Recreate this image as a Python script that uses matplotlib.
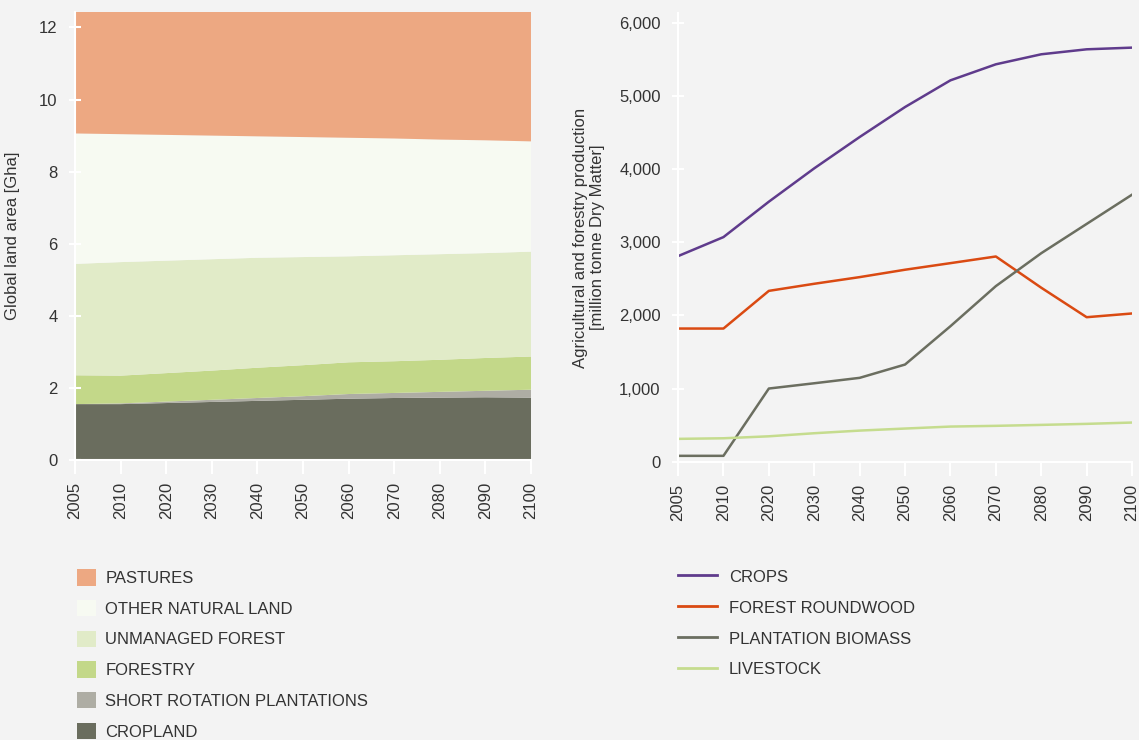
import matplotlib
matplotlib.use("Agg")
import matplotlib.pyplot as plt
from matplotlib.patches import Patch
from matplotlib.lines import Line2D

plt.rcParams['font.family'] = ['Liberation Sans', 'DejaVu Sans']

# dados
anos = ["2005", "2010", "2020", "2030", "2040", "2050", "2060", "2070", "2080", "2090", "2100"]

# area de terra [Gha], de baixo para cima
cropland = [1.55, 1.55, 1.58, 1.61, 1.64, 1.67, 1.70, 1.72, 1.73, 1.74, 1.73]
short_rotation = [0.00, 0.02, 0.04, 0.06, 0.08, 0.10, 0.13, 0.14, 0.16, 0.18, 0.22]
forestry = [0.80, 0.77, 0.79, 0.81, 0.84, 0.86, 0.88, 0.88, 0.89, 0.91, 0.92]
unmanaged_forest = [3.09, 3.15, 3.12, 3.09, 3.05, 3.00, 2.94, 2.94, 2.93, 2.91, 2.91]
other_natural = [3.62, 3.55, 3.49, 3.43, 3.37, 3.33, 3.29, 3.24, 3.18, 3.13, 3.06]
pastures = [3.37, 3.39, 3.41, 3.43, 3.45, 3.47, 3.49, 3.51, 3.54, 3.56, 3.59]

# producao [milhoes de toneladas de materia seca]
crops = [2810, 3070, 3554, 4010, 4438, 4848, 5213, 5432, 5569, 5637, 5660]
roundwood = [1820, 1820, 2335, 2432, 2523, 2624, 2714, 2805, 2378, 1975, 2026]
plantation = [80, 80, 1000, 1072, 1146, 1328, 1852, 2400, 2850, 3250, 3650]
livestock = [312, 320, 347, 389, 425, 453, 480, 490, 503, 517, 535]

cores_area = ["#6A6D5E", "#AEADA4", "#C3D889", "#E1EBC8", "#F7FAF2", "#EDA882"]
nomes_area = ["CROPLAND", "SHORT ROTATION PLANTATIONS", "FORESTRY",
              "UNMANAGED FOREST", "OTHER NATURAL LAND", "PASTURES"]

fundo = "#F3F3F3"
texto = "#333333"

fig = plt.figure(figsize=(11.39, 7.40), dpi=100, facecolor=fundo)
ax1 = fig.add_axes([0.0658, 0.3784, 0.4004, 0.6054], facecolor=fundo)
ax2 = fig.add_axes([0.5953, 0.3761, 0.3986, 0.606], facecolor=fundo)

x = list(range(len(anos)))

# =======================
# GRAFICO DE AREA
# =======================
ax1.stackplot(x, cropland, short_rotation, forestry, unmanaged_forest,
              other_natural, pastures, colors=cores_area, linewidth=0)
ax1.set_xlim(0, len(anos) - 1)
ax1.set_ylim(0, 12.43)
ax1.set_yticks([0, 2, 4, 6, 8, 10, 12])
ax1.set_ylabel("Global land area [Gha]", fontsize=12, color=texto, labelpad=14)

# =======================
# GRAFICO DE LINHAS
# =======================
ax2.plot(x, crops, color="#5F3B8C", lw=1.8)
ax2.plot(x, roundwood, color="#DA4A12", lw=1.8)
ax2.plot(x, plantation, color="#6B6E60", lw=1.8)
ax2.plot(x, livestock, color="#C5DC8E", lw=1.8)
ax2.set_xlim(0, len(anos) - 1)
ax2.set_ylim(0, 6130)
ax2.set_yticks([0, 1000, 2000, 3000, 4000, 5000, 6000])
ax2.set_yticklabels(["0", "1,000", "2,000", "3,000", "4,000", "5,000", "6,000"])
ax2.set_ylabel("Agricultural and forestry production\n[million tonne Dry Matter]",
               fontsize=12, color=texto, labelpad=10, linespacing=1.15)

for ax in (ax1, ax2):
    ax.set_xticks(x)
    ax.set_xticklabels(anos, rotation=90)
    for s in ("top", "right"):
        ax.spines[s].set_visible(False)
    for s in ("left", "bottom"):
        ax.spines[s].set_color("white")
        ax.spines[s].set_linewidth(1.5)
    ax.tick_params(axis="y", direction="inout", length=9, width=1.5, color="white",
                   labelsize=12, labelcolor=texto, pad=8)
    ax.tick_params(axis="x", direction="out", length=10, width=1.5, color="white",
                   labelsize=12, labelcolor=texto, pad=6)

# legendas
h1 = [Patch(facecolor=c, edgecolor="none") for c in cores_area[::-1]]
fig.legend(h1, nomes_area[::-1], loc="upper left", bbox_to_anchor=(0.0676, 0.2308),
           frameon=False, fontsize=12, labelspacing=0.83, handlelength=1.14,
           handleheight=1.14, handletextpad=0.55, borderpad=0, borderaxespad=0,
           labelcolor=texto)

h2 = [Line2D([0], [0], color=c, lw=2) for c in ["#5F3B8C", "#DA4A12", "#6B6E60", "#C5DC8E"]]
fig.legend(h2, ["CROPS", "FOREST ROUNDWOOD", "PLANTATION BIOMASS", "LIVESTOCK"],
           loc="upper left", bbox_to_anchor=(0.5955, 0.2318), frameon=False, fontsize=12,
           labelspacing=0.83, handlelength=2.3, handleheight=1.14, handletextpad=0.75,
           borderpad=0, borderaxespad=0, labelcolor=texto)

fig.savefig("out.png", dpi=100, facecolor=fundo)
